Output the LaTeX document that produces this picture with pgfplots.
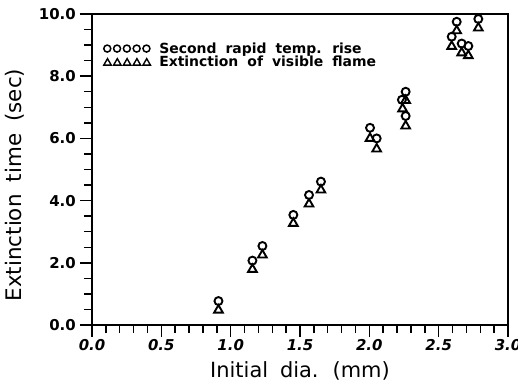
\documentclass[border=0pt]{standalone}
\usepackage{fontspec}
\setmainfont{DejaVu Sans}
\usepackage{pgfplots}
\pgfplotsset{compat=1.18}

\begin{document}
\begin{tikzpicture}
\useasboundingbox (-92bp,-57bp) rectangle (426bp,325bp);
\begin{axis}[
  name=ax,
  scale only axis,
  width=416bp, height=311bp,
  xmin=0, xmax=3, ymin=0, ymax=10,
  axis line style={line width=1.6bp},
  xtick={0,0.5,...,3.0}, minor x tick num=4,
  ytick={0,2,...,10}, minor y tick num=3,
  tick align=outside,
  xtick pos=bottom, ytick pos=left,
  major tick length=12bp, minor tick length=8bp,
  every tick/.style={line width=1.5bp, black},
  /pgf/number format/assume math mode=true,
  /pgf/number format/.cd, fixed, fixed zerofill, precision=1, /pgfplots/.cd,
  xticklabel style={font=\fontsize{15}{16}\selectfont\bfseries\itshape, inner sep=1bp, yshift=-1bp},
  yticklabel style={font=\fontsize{15}{16}\selectfont\bfseries, inner sep=1bp, xshift=-3bp},
  xlabel={Initial\hspace{0.25em} dia.\hspace{0.25em} (mm)},
  ylabel={Extinction\hspace{0.25em} time\hspace{0.25em} (sec)},
  xlabel style={font=\fontsize{21}{24}\selectfont, at={(axis description cs:0.5,0)}, anchor=north, inner sep=0pt, yshift=-36bp},
  ylabel style={font=\fontsize{21.5}{24}\selectfont, at={(axis description cs:-0.185,0.45)}, anchor=center, inner sep=0pt},
  legend style={at={(axis description cs:0.026,0.867)}, anchor=west, draw=none, fill=none,
    font=\fontsize{14}{15}\selectfont\bfseries, inner sep=0pt, row sep=-2.5bp},
  legend cell align=left,
]
\addplot[forget plot, only marks, mark=o, mark size=4bp, mark options={line width=1.9bp, black}]
  coordinates {
  (0.912,0.77) (1.157,2.07) (1.229,2.54) (1.452,3.54) (1.565,4.18) (1.651,4.61)
  (2.005,6.34) (2.053,6.00) (2.262,7.50) (2.235,7.24) (2.262,6.72)
  (2.594,9.27) (2.630,9.75) (2.666,9.05) (2.714,8.97) (2.786,9.84)
  };
\addplot[forget plot, only marks, mark=triangle, mark size=5bp, mark options={line width=1.9bp, black}]
  coordinates {
  (0.912,0.48) (1.157,1.79) (1.229,2.25) (1.452,3.27) (1.565,3.89) (1.651,4.34)
  (2.005,6.00) (2.053,5.66) (2.262,7.22) (2.240,6.95) (2.262,6.40)
  (2.594,8.96) (2.630,9.46) (2.666,8.75) (2.714,8.66) (2.786,9.55)
  };
% legend keys: a row of five symbols each
\addlegendimage{legend image code/.code={
  \foreach \i in {0,...,4}{\draw[line width=1.5bp, black] (\i*9.8bp+4bp,0) circle (3.5bp);}
  \path[draw=none] (0,0) -- (54bp,0);}}
\addlegendimage{legend image code/.code={
  \foreach \i in {0,...,4}{\draw[line width=1.4bp, black, line join=miter] (\i*9.8bp+0.5bp,-3bp) -- (\i*9.8bp+8bp,-3bp) -- (\i*9.8bp+4.25bp,3.5bp) -- cycle;}
  \path[draw=none] (0,0) -- (54bp,0);}}
\legend{Second\hspace{0.3em} rapid\hspace{0.3em} temp.\hspace{0.3em} rise, Extinction\hspace{0.3em} of\hspace{0.3em} visible\hspace{0.3em} flame}
\end{axis}
\end{tikzpicture}
\end{document}
